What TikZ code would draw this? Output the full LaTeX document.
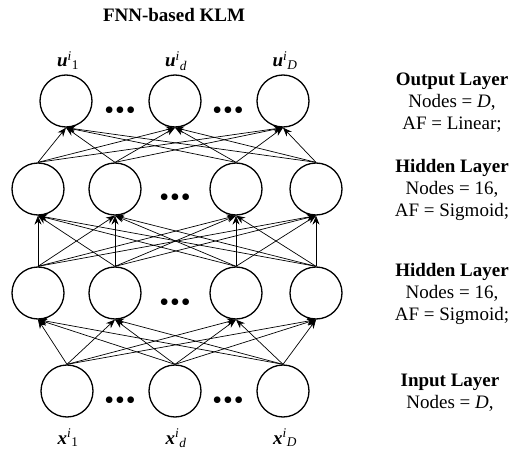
\documentclass[tikz,border=0pt]{standalone}
\usepackage{fontspec}
\setmainfont{Liberation Serif}
\usetikzlibrary{arrows.meta}
\newcommand{\vlab}[2]{\textbf{\textit{#1}}\textsuperscript{\textit{i}}\textsubscript{#2}}
\newcommand{\threedots}{\textbullet\kern1pt\textbullet\kern1pt\textbullet}
\tikzset{
  neuron/.style={circle, draw, line width=1.3pt, minimum size=52pt, inner sep=0pt},
  conn/.style={-{Stealth[length=9pt,width=7pt]}, line width=0.7pt},
  dotrow/.style={inner sep=0pt, font=\fontsize{28}{28}\selectfont},
  vname/.style={anchor=base, inner sep=0pt, font=\fontsize{19}{22}\selectfont},
  laytext/.style={align=center, inner sep=0pt, font=\fontsize{19}{22}\selectfont},
}

\begin{document}
\begin{tikzpicture}[x=1pt, y=-1pt]
  \useasboundingbox (0,0) rectangle (512,452);
  \node[laytext] (title) at (174,15) {\textbf{FNN-based KLM}};
  % output layer
  \node[neuron] (o1) at (66,101) {};
  \node[neuron] (o2) at (175,101) {};
  \node[neuron] (o3) at (283,101) {};
  \node[dotrow] (do1) at (120,113) {\threedots};
  \node[dotrow] (do2) at (228,113) {\threedots};
  \node[vname] (u1) at (68,67) {\vlab{u}{1}};
  \node[vname] (ud) at (176,67) {\vlab{u}{\textit{d}}};
  \node[vname] (uD) at (285,67) {\vlab{u}{\textit{D}}};
  % second hidden layer
  \node[neuron] (b1) at (38,189) {};
  \node[neuron] (b2) at (115,189) {};
  \node[neuron] (b3) at (236,189) {};
  \node[neuron] (b4) at (316,189) {};
  \node[dotrow] (db) at (175,200) {\threedots};
  % first hidden layer
  \node[neuron] (a1) at (38,293) {};
  \node[neuron] (a2) at (115,293) {};
  \node[neuron] (a3) at (236,293) {};
  \node[neuron] (a4) at (316,293) {};
  \node[dotrow] (da) at (175,305) {\threedots};
  % input layer
  \node[neuron] (i1) at (67,391) {};
  \node[neuron] (i2) at (175,391) {};
  \node[neuron] (i3) at (283,391) {};
  \node[dotrow] (di1) at (120,403) {\threedots};
  \node[dotrow] (di2) at (228,403) {\threedots};
  \node[vname] (x1) at (68,444) {\vlab{x}{1}};
  \node[vname] (xd) at (176,444) {\vlab{x}{\textit{d}}};
  \node[vname] (xD) at (285,444) {\vlab{x}{\textit{D}}};
  % connections
  \foreach \s in {i1,i2,i3}
    \foreach \t in {a1,a2,a3,a4}
      \draw[conn] (\s.north) -- (\t.south);
  \foreach \s in {a1,a2,a3,a4}
    \foreach \t in {b1,b2,b3,b4}
      \draw[conn] (\s.north) -- (\t.south);
  \foreach \s in {b1,b2,b3,b4}
    \foreach \t in {o1,o2,o3}
      \draw[conn] (\s.north) -- (\t.south);
  % layer descriptions
  \node[laytext] (outinfo) at (452,103) {\textbf{Output Layer}\\Nodes = \textit{D},\\AF = Linear;};
  \node[laytext] (hid2info) at (452,190) {\textbf{Hidden Layer}\\Nodes = 16,\\AF = Sigmoid;};
  \node[laytext] (hid1info) at (452,294) {\textbf{Hidden Layer}\\Nodes = 16,\\AF = Sigmoid;};
  \node[laytext] (ininfo) at (450,393) {\textbf{Input Layer}\\Nodes = \textit{D},};
\end{tikzpicture}
\end{document}
